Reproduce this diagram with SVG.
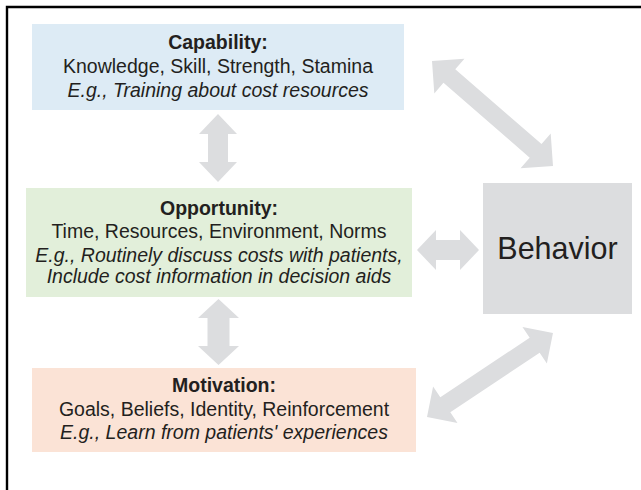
<svg xmlns="http://www.w3.org/2000/svg" width="641" height="490" viewBox="0 0 641 490">
  <style>
    .txt { font-family: "Liberation Sans", Arial, sans-serif; font-size: 19.5px; fill: #231f20; text-anchor: middle; }
    .title { font-weight: bold; }
    .ex { font-style: italic; }
    .big { font-size: 30.5px; }
    .arrow { fill: #dcdddf; }
  </style>

  <!-- outer frame (only top and left edges fall inside the canvas) -->
  <path d="M7,490 V7 H641" fill="none" stroke="#000" stroke-width="2.4"/>

  <!-- connectors: double-headed block arrows -->
  <g id="connectors" class="arrow">
    <!-- Capability <-> Opportunity -->
    <polygon transform="translate(218,114) rotate(90)" points="0,0 20,-19 20,-10 48,-10 48,-19 68,0 48,19 48,10 20,10 20,19"/>
    <!-- Opportunity <-> Motivation -->
    <polygon transform="translate(218.5,299) rotate(90)" points="0,0 19,-20.5 19,-11 47,-11 47,-20.5 66,0 47,20.5 47,11 19,11 19,20.5"/>
    <!-- Opportunity <-> Behavior -->
    <polygon transform="translate(417,250)" points="0,0 19,-20 19,-10 43,-10 43,-20 62,0 43,20 43,10 19,10 19,20"/>
    <!-- Capability <-> Behavior -->
    <polygon transform="translate(432,61) rotate(40.95)" points="0,0 23,-23 23,-9 137.2,-9 137.2,-23 160.2,0 137.2,23 137.2,9 23,9 23,23"/>
    <!-- Motivation <-> Behavior -->
    <polygon transform="translate(427,417) rotate(-33.69)" points="0,0 22,-22 22,-9 129.4,-9 129.4,-22 151.4,0 129.4,22 129.4,9 22,9 22,22"/>
  </g>

  <g id="capability">
    <rect x="32" y="24" width="372" height="86" fill="#ddebf5"/>
    <text class="txt title" x="218" y="49">Capability:</text>
    <text class="txt" x="218" y="73">Knowledge, Skill, Strength, Stamina</text>
    <text class="txt ex" x="218" y="96.5">E.g., Training about cost resources</text>
  </g>

  <g id="opportunity">
    <rect x="26" y="188" width="386" height="109" fill="#e2efda"/>
    <text class="txt title" x="219" y="215">Opportunity:</text>
    <text class="txt" x="219" y="238">Time, Resources, Environment, Norms</text>
    <text class="txt ex" x="219" y="261.5">E.g., Routinely discuss costs with patients,</text>
    <text class="txt ex" x="219" y="283">Include cost information in decision aids</text>
  </g>

  <g id="motivation">
    <rect x="32" y="368" width="384" height="84" fill="#fbe3d6"/>
    <text class="txt title" x="224" y="392">Motivation:</text>
    <text class="txt" x="224" y="415.5">Goals, Beliefs, Identity, Reinforcement</text>
    <text class="txt ex" x="224" y="439">E.g., Learn from patients' experiences</text>
  </g>

  <g id="behavior">
    <rect x="483" y="183" width="149" height="131" fill="#dcdddf"/>
    <text class="txt big" x="557.5" y="259">Behavior</text>
  </g>
</svg>
